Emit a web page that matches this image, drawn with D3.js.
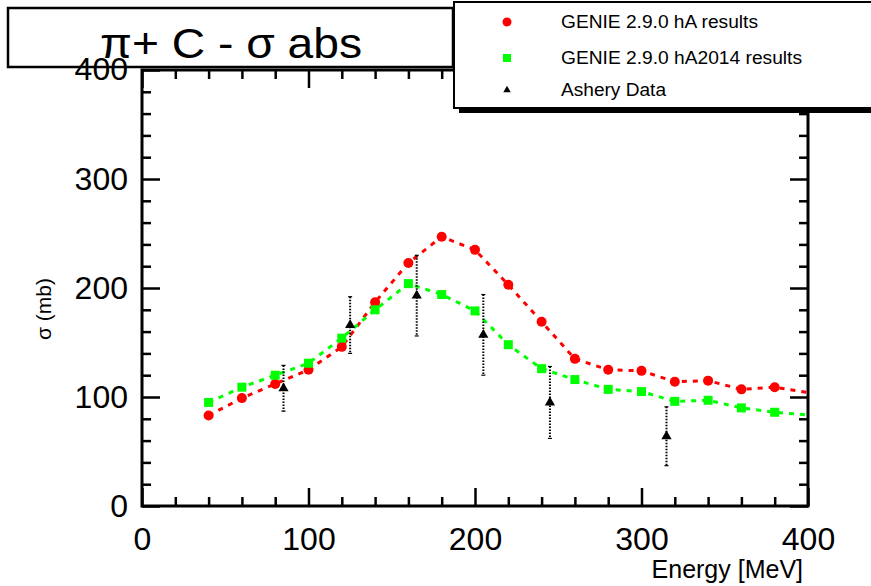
<!DOCTYPE html>
<html><head><meta charset="utf-8">
<script src="https://cdn.jsdelivr.net/npm/d3@7"></script>
<style>
html,body{margin:0;padding:0;background:#fff;}
svg{display:block;font-family:"Liberation Sans",Arial,Helvetica,sans-serif;}
</style></head>
<body>
<svg id="c" width="871" height="586"></svg>
<script>
// ---- data ----
const energies = [40,60,80,100,120,140,160,180,200,220,240,260,280,300,320,340,360,380,420];
const hAValues = [83,99,112,125,146,187,223,247,235,203,169,135,125,124,114,115,107,109,99];
const hA2014Values = [95,109,120,131,154,180,204,194,179,148,126,116,107,105,96,97,90,86,81];
const asheryEnergies = [85,125,165,205,245,315];
const asheryValues = [108,166,193,157,95,64];
const asheryErrors = [21,26,37,37,33,27];
const xMajorTicks = [0,100,200,300,400];
const yMajorTicks = [0,100,200,300,400];
const legendLabels = ["GENIE 2.9.0 hA results","GENIE 2.9.0 hA2014 results","Ashery Data"];
const titleText = "π+ C - σ abs";

const svg = d3.select("#c");
const L=142,R=808,T=70,B=506;
const x = d3.scaleLinear().domain([0,400]).range([L,R]);
const y = d3.scaleLinear().domain([0,400]).range([B,T]);
const xMinor = d3.range(0,401,20).filter(v=>!xMajorTicks.includes(v));
const yMinor = d3.range(0,401,20).filter(v=>!yMajorTicks.includes(v));
const LABEL_FS = 32;

svg.append("clipPath").attr("id","pc").append("rect").attr("x",L).attr("y",T).attr("width",R-L).attr("height",B-T);

function styleAxis(g){
  g.select(".domain").remove();
  g.selectAll("line").attr("stroke","#000").attr("stroke-width",2.5);
  g.selectAll("text").attr("fill","#000").attr("font-size",LABEL_FS).attr("font-family","Liberation Sans, Arial, sans-serif");
}
// bottom
svg.append("g").attr("transform",`translate(0,${B})`)
  .call(d3.axisBottom(x).tickValues(xMajorTicks).tickSize(-18).tickPadding(21).tickFormat(d3.format("d")))
  .call(styleAxis);
svg.append("g").attr("transform",`translate(0,${B})`)
  .call(d3.axisBottom(x).tickValues(xMinor).tickSize(-9).tickFormat(""))
  .call(styleAxis);
// top
svg.append("g").attr("transform",`translate(0,${T})`)
  .call(d3.axisTop(x).tickValues(xMajorTicks).tickSize(-18).tickFormat(""))
  .call(styleAxis);
svg.append("g").attr("transform",`translate(0,${T})`)
  .call(d3.axisTop(x).tickValues(xMinor).tickSize(-9).tickFormat(""))
  .call(styleAxis);
// left (top label 400 drawn later, above the title box)
svg.append("g").attr("transform",`translate(${L},0)`)
  .call(d3.axisLeft(y).tickValues(yMajorTicks).tickSize(-18).tickPadding(14).tickFormat(d=>d===400?"":d3.format("d")(d)))
  .call(styleAxis);
svg.append("g").attr("transform",`translate(${L},0)`)
  .call(d3.axisLeft(y).tickValues(yMinor).tickSize(-9).tickFormat(""))
  .call(styleAxis);
// right
svg.append("g").attr("transform",`translate(${R},0)`)
  .call(d3.axisRight(y).tickValues(yMajorTicks).tickSize(-18).tickFormat(""))
  .call(styleAxis);
svg.append("g").attr("transform",`translate(${R},0)`)
  .call(d3.axisRight(y).tickValues(yMinor).tickSize(-9).tickFormat(""))
  .call(styleAxis);

svg.append("rect").attr("x",L).attr("y",T).attr("width",R-L).attr("height",B-T)
  .attr("fill","none").attr("stroke","#000").attr("stroke-width",3);

// axis titles
svg.append("text").attr("x",803).attr("y",578).attr("text-anchor","end")
  .attr("font-size",25).text("Energy [MeV]");
svg.append("text").attr("transform","translate(51,309) rotate(-90)").attr("text-anchor","middle")
  .attr("font-size",21).text("σ (mb)");

const plot = svg.append("g").attr("clip-path","url(#pc)");
const line = d3.line().x(d=>x(d[0])).y(d=>y(d[1]));
const redPts = energies.map((e,i)=>[e,hAValues[i]]);
const grnPts = energies.map((e,i)=>[e,hA2014Values[i]]);
plot.append("path").attr("d",line(redPts)).attr("fill","none").attr("stroke","#ff0000")
  .attr("stroke-width",3).attr("stroke-dasharray","5,6");
plot.append("path").attr("d",line(grnPts)).attr("fill","none").attr("stroke","#00ff00")
  .attr("stroke-width",3).attr("stroke-dasharray","5,6");

// Ashery error bars
const ash = asheryEnergies.map((e,i)=>({e,v:asheryValues[i],err:asheryErrors[i]}));
const eb = plot.append("g");
ash.forEach(d=>{
  eb.append("line").attr("x1",x(d.e)).attr("x2",x(d.e)).attr("y1",y(d.v+d.err)).attr("y2",y(d.v-d.err))
    .attr("stroke","#000").attr("stroke-width",2).attr("stroke-dasharray","1.5,1.5");
  [d.v+d.err,d.v-d.err].forEach(v=>{
    eb.append("line").attr("x1",x(d.e)-2).attr("x2",x(d.e)+2).attr("y1",y(v)).attr("y2",y(v))
      .attr("stroke","#000").attr("stroke-width",1.2);
  });
});

plot.selectAll("circle.r").data(redPts).join("circle").attr("class","r")
  .attr("cx",d=>x(d[0])).attr("cy",d=>y(d[1])).attr("r",5).attr("fill","#ff0000");
plot.selectAll("rect.g").data(grnPts).join("rect").attr("class","g")
  .attr("x",d=>x(d[0])-4.5).attr("y",d=>y(d[1])-4.5).attr("width",9).attr("height",9).attr("fill","#00ff00");
const tri = d3.symbol().type(d3.symbolTriangle).size(45);
plot.selectAll("path.t").data(ash).join("path").attr("class","t")
  .attr("transform",d=>`translate(${x(d.e)},${y(d.v)})`).attr("d",tri).attr("fill","#000");

// title box
svg.append("rect").attr("x",8).attr("y",8).attr("width",445).attr("height",59)
  .attr("fill","#fff").attr("stroke","#000").attr("stroke-width",2.5);
svg.append("text").attr("x",231).attr("y",58).attr("text-anchor","middle")
  .attr("font-size",42).attr("textLength",262).attr("lengthAdjust","spacingAndGlyphs").text(titleText);
// "400" label of the y axis, drawn above the title box
svg.append("text").attr("x",L-14).attr("y",y(400)).attr("dy","0.32em").attr("text-anchor","end")
  .attr("font-size",LABEL_FS).text(d3.format("d")(yMajorTicks[yMajorTicks.length-1]));

// legend
svg.append("rect").attr("x",459).attr("y",7).attr("width",420).attr("height",106).attr("fill","#000");
svg.append("rect").attr("x",454).attr("y",2).attr("width",420).attr("height",106)
  .attr("fill","#fff").attr("stroke","#000").attr("stroke-width",2);
const ly = [22,58,90];
const lw = [197,241,105];
svg.append("circle").attr("cx",507).attr("cy",ly[0]).attr("r",4.5).attr("fill","#ff0000");
svg.append("rect").attr("x",503).attr("y",ly[1]-4).attr("width",8).attr("height",8).attr("fill","#00ff00");
svg.append("path").attr("transform",`translate(507,${ly[2]})`).attr("d",d3.symbol().type(d3.symbolTriangle).size(24)).attr("fill","#000");
legendLabels.forEach((t,i)=>{
  svg.append("text").attr("x",561).attr("y",ly[i]).attr("dy","0.35em").attr("font-size",17.5)
    .attr("textLength",lw[i]).attr("lengthAdjust","spacingAndGlyphs").text(t);
});
</script>
</body></html>
